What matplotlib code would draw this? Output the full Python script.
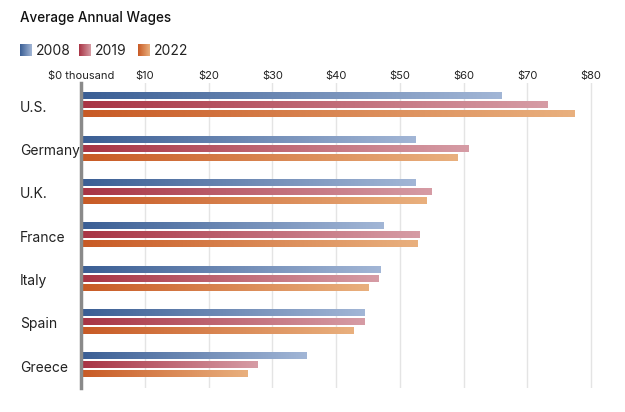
import numpy as np
import matplotlib.pyplot as plt
import matplotlib.transforms as mtransforms
from matplotlib.colors import LinearSegmentedColormap

plt.rcParams["font.family"] = ["Inter", "DejaVu Sans"]

countries = ["U.S.", "Germany", "U.K.", "France", "Italy", "Spain", "Greece"]
years = ["2008", "2019", "2022"]
wages_2008 = [66.0, 52.4, 52.4, 47.5, 46.9, 44.4, 35.4]
wages_2019 = [73.2, 60.8, 54.9, 53.1, 46.7, 44.5, 27.6]
wages_2022 = [77.4, 59.1, 54.1, 52.8, 45.0, 42.8, 26.1]
ticks = [0, 10, 20, 30, 40, 50, 60, 70, 80]
tick_labels = ["$0 thousand", "$10", "$20", "$30", "$40", "$50", "$60", "$70", "$80"]

# gradient start/end per series
grads = {
    "2008": ("#3a5e94", "#a2b6d6"),
    "2019": ("#a83444", "#d69ca5"),
    "2022": ("#c85a25", "#e9b07e"),
}
cmaps = {k: LinearSegmentedColormap.from_list(k, v) for k, v in grads.items()}
grad = np.linspace(0, 1, 256).reshape(1, -1)

fig = plt.figure(figsize=(6.25, 4.12), dpi=100)
ax = fig.add_axes([81 / 625, 1 - 388 / 412, 523 / 625, 305 / 412])

series = [wages_2008, wages_2019, wages_2022]
offsets = [-0.26, -0.052, 0.156]
bh = 0.14
for yr, vals, off in zip(years, series, offsets):
    for i, v in enumerate(vals):
        y = i + off
        ax.imshow(grad, cmap=cmaps[yr], aspect="auto", interpolation="bilinear",
                  extent=[0, v, y + bh / 2, y - bh / 2], zorder=3)

ax.set_xlim(0, 82)
ax.set_ylim(6.47, -0.57)
ax.set_xticks(ticks)
ax.set_xticklabels(tick_labels)
ax.xaxis.tick_top()
ax.tick_params(axis="x", length=0, pad=1.5, labelsize=8, labelcolor="#222222")
ax.set_yticks(range(len(countries)))
ax.set_yticklabels(countries)
ax.tick_params(axis="y", length=0, pad=44, labelsize=10, labelcolor="#222222")
shift = mtransforms.ScaledTranslation(0, 1.5 / 100, fig.dpi_scale_trans)
for lab in ax.get_yticklabels():
    lab.set_horizontalalignment("left")
    lab.set_transform(lab.get_transform() + shift)
ax.grid(axis="x", color="#e4e4e4", linewidth=1, zorder=0)
ax.set_axisbelow(True)
for s in ["top", "right", "bottom"]:
    ax.spines[s].set_visible(False)
ax.spines["left"].set_color("#8a8a8a")
ax.spines["left"].set_linewidth(2.5)
ax.spines["left"].set_zorder(4)

# title and legend in pixel space
over = fig.add_axes([0, 0, 1, 1], facecolor="none")
over.axis("off")
over.text(20, 18, "Average Annual Wages", fontsize=9.7, fontweight="medium",
          color="#111111", va="center", ha="left")
for yr, x0 in zip(years, [20, 79, 138]):
    over.imshow(grad, cmap=cmaps[yr], aspect="auto", interpolation="bilinear",
                extent=[x0, x0 + 12, 56, 44])
    over.text(x0 + 16, 50.5, yr, fontsize=10, color="#222222", va="center", ha="left")
over.set_xlim(0, 625)
over.set_ylim(412, 0)

fig.savefig("out.png", dpi=100)
